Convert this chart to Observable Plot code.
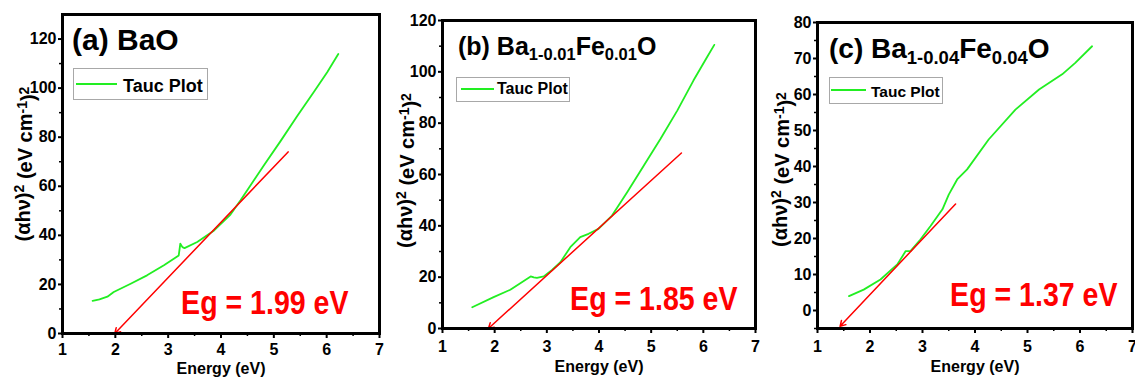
<!DOCTYPE html>
<html><head><meta charset="utf-8">
<script src="https://cdn.jsdelivr.net/npm/d3@7"></script>
<script src="https://cdn.jsdelivr.net/npm/@observablehq/plot@0.6"></script>
<style>
body{margin:0;background:#fff;}
#wrap{position:relative;width:1135px;height:380px;overflow:hidden;font-family:"Liberation Sans",Arial,sans-serif;font-weight:bold;color:#000;}
.panel{position:absolute;top:0;}
.panel svg{overflow:visible;max-width:none;background:transparent;}
.title{position:absolute;white-space:nowrap;line-height:1;}
.title sub{font-size:0.66em;vertical-align:baseline;position:relative;top:0.32em;}
.legend{position:absolute;border:1.5px solid #a8a8a8;background:#fff;box-sizing:border-box;}
.sw{position:absolute;height:0;border-top:2px solid #22ee22;}
.lt{position:absolute;white-space:nowrap;line-height:1;}
</style></head>
<body>
<div id="wrap">
  <div id="pa" class="panel" style="left:0px"></div>
  <div id="pb" class="panel" style="left:380px"></div>
  <div id="pc" class="panel" style="left:755px"></div>

  <div class="title" style="left:72px;top:24.6px;font-size:30px">(a) BaO</div>
  <div class="title" style="left:458px;top:33.8px;font-size:25px">(b) Ba<sub>1-0.01</sub>Fe<sub>0.01</sub>O</div>
  <div class="title" style="left:829px;top:35.3px;font-size:28px">(c) Ba<sub>1-0.04</sub>Fe<sub>0.04</sub>O</div>

  <div class="legend" style="left:73px;top:68px;width:135px;height:32px"></div>
  <div class="sw" style="left:76px;top:82.5px;width:41px"></div>
  <div class="lt" style="left:123px;top:76.8px;font-size:18px">Tauc Plot</div>

  <div class="legend" style="left:456px;top:77px;width:114px;height:25px"></div>
  <div class="sw" style="left:461px;top:88px;width:33px"></div>
  <div class="lt" style="left:497px;top:81.4px;font-size:16px">Tauc Plot</div>

  <div class="legend" style="left:829px;top:77px;width:114px;height:27px"></div>
  <div class="sw" style="left:831px;top:89px;width:35px"></div>
  <div class="lt" style="left:871px;top:83.9px;font-size:15.5px">Tauc Plot</div>
</div>
<script>
// ---------- data ----------
const xTicks = [1, 2, 3, 4, 5, 6, 7];
const xMinorTicks = [1.5, 2.5, 3.5, 4.5, 5.5, 6.5];
const yLabel = "(αhν)2 (eV cm-1)2";
const xLabel = "Energy (eV)";

// (a) BaO
const energyA = [1.57, 1.70, 1.85, 1.97, 2.29, 2.60, 2.92, 3.20, 3.23, 3.27, 3.31, 3.55, 3.87, 4.18, 4.37, 4.50, 4.81, 5.13, 5.44, 5.76, 6.01, 6.22];
const tauA    = [13.3, 13.9, 15.0, 16.9, 20.3, 23.7, 27.8, 31.8, 36.6, 35.2, 34.8, 37.3, 42.0, 48.5, 54.3, 58.5, 68.5, 78.5, 88.5, 98.5, 106.5, 113.9];
const fitStartA = [5.27, 74.0];
const fitEndA = [1.99, 0];
const egA = "Eg = 1.99 eV";
const yTicksA = [0, 20, 40, 60, 80, 100, 120];
const yMinorA = [10, 30, 50, 70, 90, 110];

// (b) Ba(1-0.01)Fe(0.01)O
const energyB = [1.57, 1.98, 2.30, 2.69, 2.75, 2.81, 2.94, 3.10, 3.26, 3.45, 3.64, 3.80, 3.99, 4.25, 4.54, 4.86, 5.18, 5.50, 5.81, 6.07, 6.21];
const tauB    = [8.3, 12.2, 15.1, 20.3, 19.9, 19.7, 20.3, 22.8, 25.8, 31.7, 35.6, 36.9, 38.8, 44.0, 53.1, 63.5, 73.9, 84.9, 96.6, 105.7, 110.5];
const fitStartB = [5.58, 68.4];
const fitEndB = [1.88, 0];
const egB = "Eg = 1.85 eV";
const yTicksB = [0, 20, 40, 60, 80, 100, 120];
const yMinorB = [10, 30, 50, 70, 90, 110];

// (c) Ba(1-0.04)Fe(0.04)O
const energyC = [1.60, 1.88, 2.20, 2.52, 2.68, 2.77, 2.96, 3.15, 3.38, 3.50, 3.66, 3.85, 4.26, 4.77, 5.22, 5.66, 5.91, 6.23];
const tauC    = [4.0, 5.8, 8.6, 12.8, 16.5, 16.5, 19.7, 23.4, 28.1, 32.2, 36.4, 39.2, 47.5, 55.8, 61.4, 65.6, 68.8, 73.4];
const fitStartC = [3.63, 29.6];
const fitEndC = [1.43, -4.4];
const egC = "Eg = 1.37 eV";
const yTicksC = [0, 10, 20, 30, 40, 50, 60, 70, 80];
const yMinorC = [-5, 5, 15, 25, 35, 45, 55, 65, 75];

// ---------- drawing ----------
const GREEN = "#22ee22", RED = "#ff0000", FONT = "Liberation Sans, Arial, sans-serif";

function panel(o) {
  const curve = o.energy.map((e, i) => ({e, v: o.tau[i]}));
  const fit = [{x1: o.fitStart[0], y1: o.fitStart[1], x2: o.fitEnd[0], y2: o.fitEnd[1]}];
  const svg = Plot.plot({
    width: 380, height: 380,
    marginLeft: 62, marginRight: o.mr, marginTop: o.mt, marginBottom: o.mb,
    style: {fontFamily: FONT, fontWeight: "bold", background: "transparent", overflow: "visible"},
    x: {domain: [1, 7]},
    y: {domain: o.yDomain},
    marks: [
      Plot.axisX({ticks: xMinorTicks, tickSize: 3, tickFormat: () => "", strokeWidth: 1.5, label: null}),
      Plot.axisY({ticks: o.yMinor, tickSize: 3, tickFormat: () => "", strokeWidth: 1.5, label: null}),
      Plot.axisX({ticks: xTicks, tickSize: 5, tickPadding: o.tp, fontSize: 16, fontWeight: "bold", strokeWidth: 2, label: null, tickFormat: d3.format("d")}),
      Plot.axisY({ticks: o.yTicks, tickSize: 4, tickPadding: 2, fontSize: 16, fontWeight: "bold", strokeWidth: 2, label: null, tickFormat: d3.format("d")}),
      Plot.line(curve, {x: "e", y: "v", stroke: GREEN, strokeWidth: 1.8}),
      Plot.arrow(fit, {x1: "x1", y1: "y1", x2: "x2", y2: "y2", stroke: RED, strokeWidth: 1.5, headLength: 6}),
      Plot.text([o.eg], {frameAnchor: "bottom-right", textAnchor: "end", lineAnchor: "bottom", dx: o.egDx, dy: o.egDy, fontSize: 34, fontWeight: "bold", fill: RED}),
      Plot.text([yLabel], {frameAnchor: "left", rotate: -90, textAnchor: "middle", lineAnchor: "middle", dx: o.ylDx, dy: o.ylDy, fontSize: 20, fontWeight: "bold", fill: "black"}),
      Plot.text([xLabel], {frameAnchor: "bottom", textAnchor: "middle", lineAnchor: "top", dy: o.xlDy, fontSize: 16, fontWeight: "bold", fill: "black"}),
      Plot.frame({stroke: "black", strokeWidth: 3})
    ]
  });
  svg.querySelectorAll("text").forEach(t => {
    t.style.fontWeight = "bold";
    t.style.fontFamily = FONT;
    // the Eg annotation is drawn in a condensed face in the reference
    if (t.textContent.startsWith("Eg")) t.setAttribute("transform", (t.getAttribute("transform") || "") + " scale(0.84,1)");
    // y-axis title: render exponents as real superscripts
    if (t.textContent === yLabel) {
      const parts = [["(αhν)", false], ["2", true], [" (eV cm", false], ["-1", true], [")", false], ["2", true]];
      t.textContent = "";
      let up = false;
      for (const [s, sup] of parts) {
        const ts = document.createElementNS("http://www.w3.org/2000/svg", "tspan");
        ts.textContent = s;
        if (sup && !up) { ts.setAttribute("dy", "-0.4em"); up = true; }
        else if (!sup && up) { ts.setAttribute("dy", "0.4em"); up = false; }
        if (sup) ts.setAttribute("font-size", "14");
        t.appendChild(ts);
      }
    }
  });
  document.getElementById(o.id).appendChild(svg);
}

panel({id: "pa", energy: energyA, tau: tauA, fitStart: fitStartA, fitEnd: fitEndA, eg: egA,
  yDomain: [0, 130], yTicks: yTicksA, yMinor: yMinorA, mr: 1, mt: 14, mb: 47, tp: 5,
  egDx: -31, egDy: -20, ylDx: -39, ylDy: -10, xlDy: 29});
panel({id: "pb", energy: energyB, tau: tauB, fitStart: fitStartB, fitEnd: fitEndB, eg: egB,
  yDomain: [0, 120], yTicks: yTicksB, yMinor: yMinorB, mr: 5, mt: 20, mb: 52, tp: 7,
  egDx: -18, egDy: -19, ylDx: -37, ylDy: -4, xlDy: 32});
panel({id: "pc", energy: energyC, tau: tauC, fitStart: fitStartC, fitEnd: fitEndC, eg: egC,
  yDomain: [-5, 80], yTicks: yTicksC, yMinor: yMinorC, mr: 3, mt: 22, mb: 52, tp: 7,
  egDx: -15, egDy: -23, ylDx: -37, ylDy: -6, xlDy: 32});
</script>
</body></html>
